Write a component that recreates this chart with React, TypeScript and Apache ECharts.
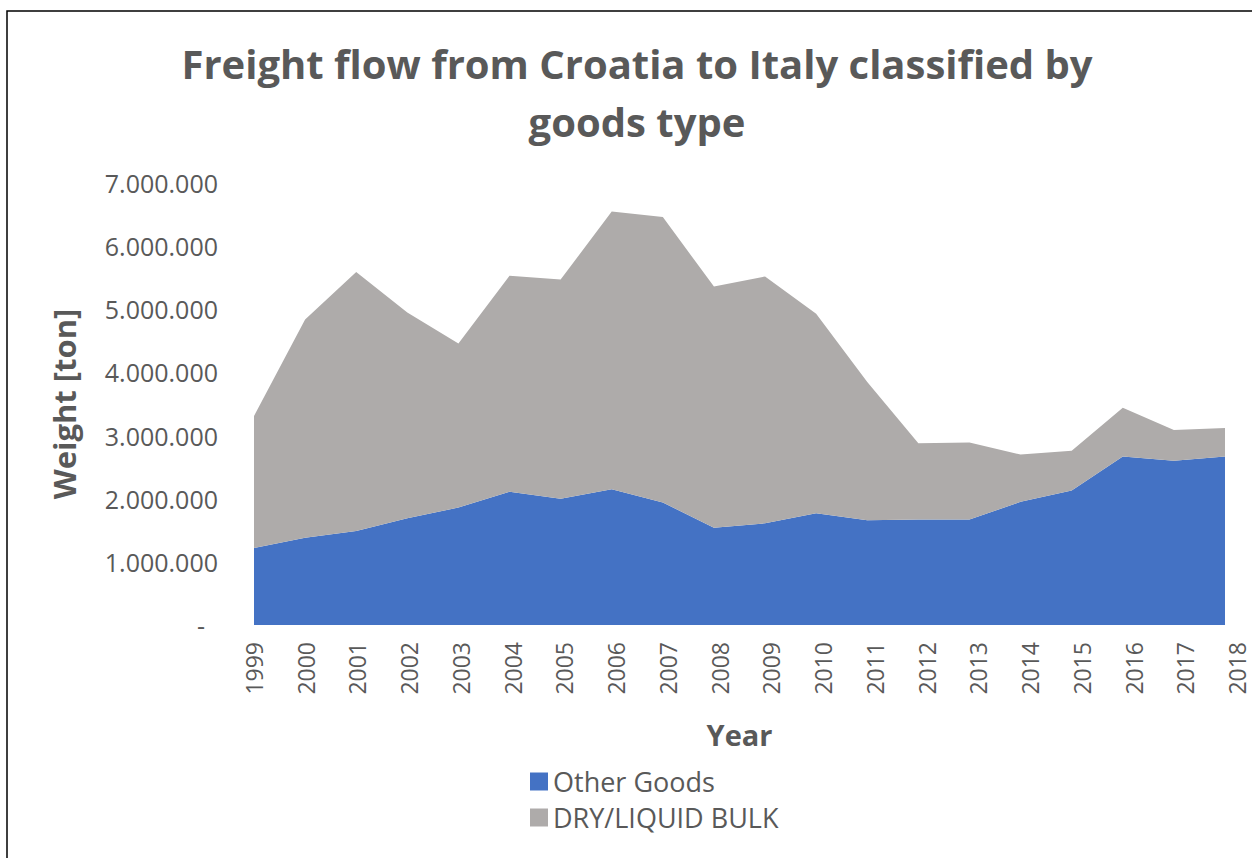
import React, { useEffect, useRef } from "react";
import * as echarts from "echarts";

const years = ["1999","2000","2001","2002","2003","2004","2005","2006","2007","2008","2009","2010","2011","2012","2013","2014","2015","2016","2017","2018"];
const otherGoods = [1220000,1380000,1490000,1690000,1860000,2110000,2000000,2150000,1940000,1540000,1610000,1770000,1660000,1670000,1670000,1950000,2130000,2670000,2600000,2670000];
const dryLiquidBulk = [2090000,3460000,4100000,3260000,2600000,3420000,3470000,4400000,4520000,3820000,3910000,3160000,2190000,1210000,1220000,750000,630000,770000,490000,450000];
const yTicks = { min: 0, max: 7000000, interval: 1000000 };

const FONT = "'Open Sans', 'Noto Sans', sans-serif";
const TXT = "#595959";

function fmt(v: number): string {
  if (v === 0) return "{d|-}";
  return String(Math.round(v)).replace(/\B(?=(\d{3})+(?!\d))/g, ".");
}

export default function App() {
  const ref = useRef<HTMLDivElement>(null);
  useEffect(() => {
    if (!ref.current) return;
    const chart = echarts.init(ref.current, null, { renderer: "svg" });
    chart.setOption({
      animation: false,
      backgroundColor: "#ffffff",
      title: {
        text: "Freight flow from Croatia to Italy classified by\ngoods type",
        left: 632,
        top: 29,
        textAlign: "center",
        textStyle: { fontFamily: FONT, fontSize: 40, fontWeight: "bold", color: TXT, lineHeight: 58 },
      },
      legend: {
        orient: "vertical",
        left: 525,
        top: 763,
        icon: "rect",
        itemWidth: 18,
        itemHeight: 18,
        itemGap: 9,
        textStyle: { fontFamily: FONT, fontSize: 27, color: TXT, lineHeight: 26 },
        data: ["Other Goods", "DRY/LIQUID BULK"],
      },
      grid: [
        { left: 254, right: 27, top: 183, bottom: 233 },
        { left: 254, right: 15, top: 183, bottom: 233 },
      ],
      xAxis: [
        {
          type: "category",
          gridIndex: 0,
          data: years,
          boundaryGap: false,
          axisLine: { show: false },
          axisTick: { show: false },
          axisLabel: { show: false },
          splitLine: { show: false },
          name: "Year",
          nameLocation: "middle",
          nameGap: 95,
          nameTextStyle: { fontFamily: FONT, fontSize: 29, fontWeight: "bold", color: TXT },
        },
        {
          type: "category",
          gridIndex: 1,
          data: years,
          boundaryGap: false,
          axisLine: { show: false },
          axisTick: { show: false },
          splitLine: { show: false },
          axisLabel: { rotate: 90, margin: 17, fontFamily: FONT, fontSize: 23, color: TXT, interval: 0 },
        },
      ],
      yAxis: [
        {
          type: "value",
          gridIndex: 0,
          min: yTicks.min,
          max: yTicks.max,
          interval: yTicks.interval,
          splitLine: { show: false },
          axisLine: { show: false },
          axisTick: { show: false },
          axisLabel: {
            margin: 36,
            fontFamily: FONT,
            fontSize: 25,
            color: TXT,
            formatter: fmt,
            rich: { d: { fontFamily: FONT, fontSize: 25, color: TXT, padding: [0, 13, 0, 0] } },
          },
          name: "Weight [ton]",
          nameLocation: "middle",
          nameGap: 175,
          nameTextStyle: { fontFamily: FONT, fontSize: 31, fontWeight: "bold", color: TXT },
        },
        {
          type: "value",
          gridIndex: 1,
          min: yTicks.min,
          max: yTicks.max,
          show: false,
        },
      ],
      graphic: [
        {
          type: "rect",
          shape: { x: 7, y: 11, width: 1400, height: 1000 },
          style: { fill: "none", stroke: "#000000", lineWidth: 1.5 },
          silent: true,
        },
      ],
      series: [
        {
          name: "Other Goods",
          type: "line",
          stack: "total",
          data: otherGoods,
          symbol: "none",
          lineStyle: { width: 0 },
          areaStyle: { color: "#4472C4", opacity: 1 },
          itemStyle: { color: "#4472C4" },
        },
        {
          name: "DRY/LIQUID BULK",
          type: "line",
          stack: "total",
          data: dryLiquidBulk,
          symbol: "none",
          lineStyle: { width: 0 },
          areaStyle: { color: "#AEABAA", opacity: 1 },
          itemStyle: { color: "#AEABAA" },
        },
      ],
    });
    return () => chart.dispose();
  }, []);
  return <div ref={ref} style={{ position: "fixed", left: 0, top: 0, width: 1252, height: 858 }} />;
}
